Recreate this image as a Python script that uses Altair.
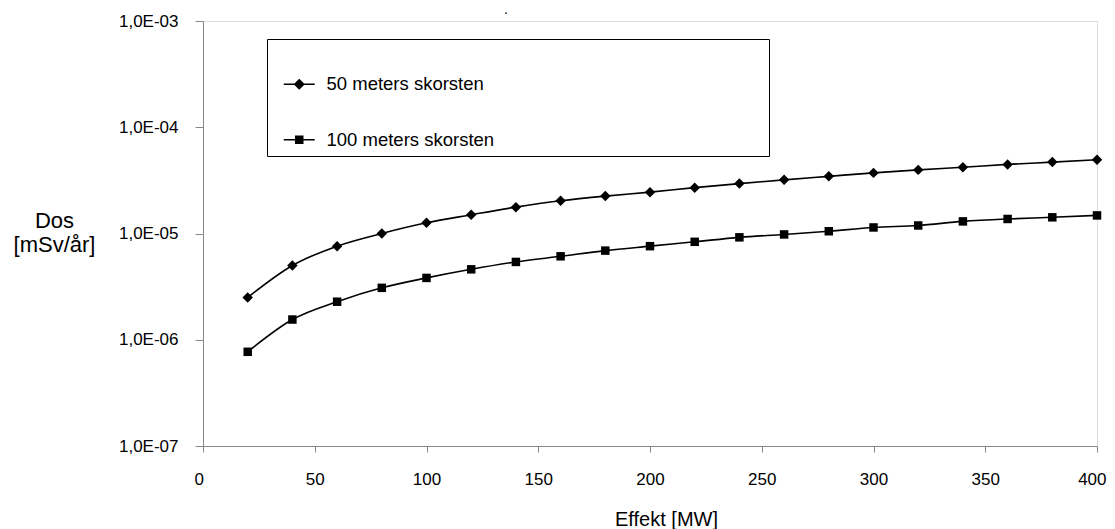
import altair as alt
import pandas as pd

effekt = [20, 40, 60, 80, 100, 120, 140, 160, 180, 200,
          220, 240, 260, 280, 300, 320, 340, 360, 380, 400]
dos_50 = [2.5e-6, 5.0e-6, 7.6e-6, 1.0e-5, 1.26e-5, 1.5e-5, 1.77e-5, 2.03e-5, 2.25e-5, 2.45e-5,
          2.7e-5, 2.95e-5, 3.2e-5, 3.45e-5, 3.72e-5, 3.97e-5, 4.2e-5, 4.47e-5, 4.7e-5, 4.95e-5]
dos_100 = [7.7e-7, 1.55e-6, 2.28e-6, 3.08e-6, 3.82e-6, 4.6e-6, 5.4e-6, 6.1e-6, 6.9e-6, 7.6e-6,
           8.35e-6, 9.2e-6, 9.8e-6, 1.05e-5, 1.14e-5, 1.19e-5, 1.3e-5, 1.37e-5, 1.42e-5, 1.48e-5]
series_names = ["50 meters skorsten", "100 meters skorsten"]
x_ticks = [0, 50, 100, 150, 200, 250, 300, 350, 400]
y_ticks = [1e-3, 1e-4, 1e-5, 1e-6, 1e-7]

df = pd.DataFrame({
    "Effekt": effekt + effekt,
    "Dos": dos_50 + dos_100,
    "Serie": [series_names[0]] * len(effekt) + [series_names[1]] * len(effekt),
})

FONT = "Liberation Sans"

x = alt.X(
    "Effekt:Q",
    scale=alt.Scale(domain=[0, 400], nice=False, zero=False),
    axis=alt.Axis(
        values=x_ticks, title="Effekt [MW]", grid=False,
        labelFlush=True, labelFlushOffset=9,
        tickSize=6, labelPadding=19, labelFontSize=17,
        titleFontSize=20, titleFontWeight="normal",
        titleX=463, titleY=79, titleBaseline="alphabetic", titleAlign="center",
    ),
)
y = alt.Y(
    "Dos:Q",
    scale=alt.Scale(type="log", domain=[1e-7, 1e-3], nice=False),
    axis=alt.Axis(
        values=y_ticks, title=["Dos", "[mSv/år]"], grid=False, labelFlush=False,
        labelExpr="'1,0E-0' + format(-log(datum.value)/LN10, '.0f')",
        tickSize=8, labelPadding=17, labelFontSize=17,
        titleAngle=0, titleX=-149, titleY=199, titleAlign="center",
        titleBaseline="middle", titleFontSize=22, titleLineHeight=24,
        titleFontWeight="normal",
    ),
)

base = alt.Chart(df)

lines = base.mark_line(color="black", strokeWidth=1.6, interpolate="monotone").encode(
    x=x, y=y, detail="Serie:N"
)

pts50 = base.transform_filter(alt.datum.Serie == series_names[0]).mark_point(
    shape="diamond", filled=True, color="black", size=110, opacity=1
).encode(x=x, y=y)

pts100 = base.transform_filter(alt.datum.Serie == series_names[1]).mark_point(
    shape="square", filled=True, color="black", size=72, opacity=1
).encode(x=x, y=y)

path50 = "M-3.44,0L3.44,0M-1,0L0,-1L1,0L0,1Z"
path100 = "M-3.44,0L3.44,0M-0.78,-0.78L0.78,-0.78L0.78,0.78L-0.78,0.78Z"

legend_def = alt.Legend(
    title="\u2800" * 49, titleFontSize=14, titlePadding=16, titleLimit=2000,
    titleColor="white",
    orient="none", legendX=64, legendY=18, padding=6,
    strokeColor="black", fillColor="white",
    rowPadding=36.5, symbolOffset=17, labelOffset=18,
    labelFontSize=18.5, labelFont=FONT, labelLimit=600, labelColor="black",
    symbolSize=81, symbolStrokeWidth=1.5, symbolFillColor="black",
    symbolStrokeColor="black", symbolOpacity=1,
)

legend_layer = base.transform_filter("false").mark_point(
    filled=True, color="black", size=81, opacity=1, strokeWidth=1.5
).encode(
    x=x, y=y,
    shape=alt.Shape(
        "Serie:N",
        scale=alt.Scale(domain=series_names, range=[path50, path100]),
        legend=legend_def,
    ),
    stroke=alt.Stroke(
        "Serie:N",
        scale=alt.Scale(domain=series_names, range=["black", "black"]),
        legend=legend_def,
    ),
)

chart = alt.layer(lines, pts50, pts100, legend_layer).properties(
    width=894,
    height=425,
    autosize=alt.AutoSizeParams(type="none"),
    padding={"left": 195, "top": 13, "right": 10, "bottom": 90},
    title=alt.TitleParams(".", anchor="start", frame="group", dx=301, dy=10, fontSize=14,
                          fontWeight="normal", offset=-6, baseline="alphabetic",
                          font=FONT, color="black"),
).configure_axis(
    domainColor="black", domainWidth=2, tickColor="black", tickWidth=1.5,
    labelColor="black", titleColor="black", labelFont=FONT, titleFont=FONT,
).configure_view(
    stroke="black", strokeWidth=1.5, fill="white"
).configure(background="white")

chart.save("out.html", embed_options={"renderer": "svg", "actions": False})
